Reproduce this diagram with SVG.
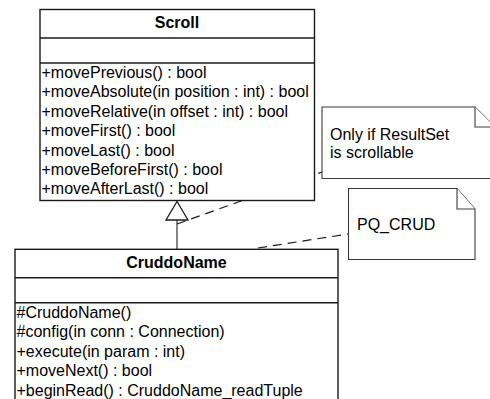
<svg xmlns="http://www.w3.org/2000/svg" width="490" height="399" viewBox="0 0 490 399">
  <defs>
    <style>
      .box { fill: #ffffff; stroke: #1a1a1a; stroke-width: 1.4; }
      .sep { stroke: #1a1a1a; stroke-width: 1.4; }
      .note { fill: #ffffff; stroke: #3a3a3a; stroke-width: 1.1; }
      .title { font-family: "Liberation Sans", Arial, sans-serif; font-size: 16px; font-weight: bold; fill: #000; text-anchor: middle; }
      .op { font-family: "Liberation Sans", Arial, sans-serif; font-size: 16px; fill: #000; }
      .dash { fill: none; stroke: #1a1a1a; stroke-width: 1.2; stroke-dasharray: 9 6; }
      .gen { fill: none; stroke: #333; stroke-width: 1.2; }
    </style>
  </defs>
  <rect width="490" height="399" fill="#ffffff"/>

  <!-- connectors -->
  <g id="connectors">
    <line class="gen" x1="177" y1="220" x2="177" y2="249"/>
    <polygon points="177,201.5 166,220 188,220" fill="#ffffff" stroke="#1a1a1a" stroke-width="1.3"/>
    <line class="dash" x1="177" y1="224" x2="322" y2="172"/>
    <line class="dash" x1="258" y1="248" x2="348" y2="234"/>
  </g>

  <!-- Scroll class -->
  <g id="scroll">
    <rect class="box" x="40" y="9.5" width="274.5" height="191"/>
    <line class="sep" x1="40" y1="38" x2="314.5" y2="38"/>
    <line class="sep" x1="40" y1="63" x2="314.5" y2="63"/>
    <text class="title" x="177" y="28">Scroll</text>
    <text class="op" x="41.5" y="78">+movePrevious() : bool</text>
    <text class="op" x="41.5" y="97.4">+moveAbsolute(in position : int) : bool</text>
    <text class="op" x="41.5" y="116.8">+moveRelative(in offset : int) : bool</text>
    <text class="op" x="41.5" y="136.2">+moveFirst() : bool</text>
    <text class="op" x="41.5" y="155.6">+moveLast() : bool</text>
    <text class="op" x="41.5" y="175">+moveBeforeFirst() : bool</text>
    <text class="op" x="41.5" y="194.4">+moveAfterLast() : bool</text>
  </g>

  <!-- CruddoName class -->
  <g id="cruddoname">
    <rect class="box" x="15" y="249.3" width="323" height="170"/>
    <line class="sep" x1="15" y1="277.7" x2="338" y2="277.7"/>
    <line class="sep" x1="15" y1="302.7" x2="338" y2="302.7"/>
    <text class="title" x="176.5" y="268">CruddoName</text>
    <text class="op" x="16.5" y="318">#CruddoName()</text>
    <text class="op" x="16.5" y="337.4">#config(in conn : Connection)</text>
    <text class="op" x="16.5" y="356.8">+execute(in param : int)</text>
    <text class="op" x="16.5" y="376.2">+moveNext() : bool</text>
    <text class="op" x="16.5" y="395.6">+beginRead() : CruddoName_readTuple</text>
  </g>

  <!-- note: scrollable condition -->
  <g id="note-scrollable">
    <path class="note" d="M322,107 H475 L495,127 V178.5 H322 Z"/>
    <path class="note" d="M475,107 V127 H495" fill="none"/>
    <text class="op" x="330" y="140">Only if ResultSet</text>
    <text class="op" x="330" y="158">is scrollable</text>
  </g>

  <!-- note: PQ_CRUD -->
  <g id="note-pqcrud">
    <path class="note" d="M348.5,188.5 H457 L475,209 V259.5 H348.5 Z"/>
    <path class="note" d="M457,188.5 V209 H475" fill="none"/>
    <text class="op" x="357" y="230">PQ_CRUD</text>
  </g>
</svg>
